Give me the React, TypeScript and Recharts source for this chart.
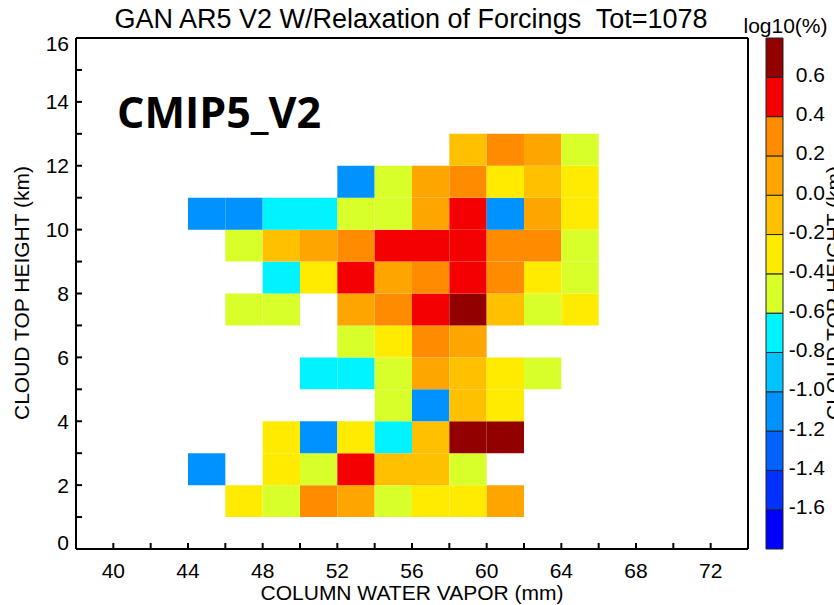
import React from 'react';
import { ComposedChart, XAxis, YAxis, ReferenceArea } from 'recharts';

const FONT = '"Liberation Sans", Arial, Helvetica, sans-serif';

// Column water vapor bins (left edge, mm) and cloud-top-height bins (bottom edge, km)
const cellLeftEdges = [44, 46, 48, 50, 52, 54, 56, 58, 60, 62, 64];
const rowBottomEdges = [1, 2, 3, 4, 5, 6, 7, 8, 9, 10, 11, 12];
const binWidth = 2;
const binHeight = 1;

// log10(%) values per row (null = empty bin)
const row01 = [null, -0.33, -0.52, 0.27, 0.12, -0.47, -0.28, -0.31, 0.09, null, null];
const row02 = [-1.03, null, -0.29, -0.45, 0.48, -0.12, -0.09, -0.55, null, null, null];
const row03 = [null, null, -0.33, -1.03, -0.26, -0.73, -0.15, 0.66, 0.63, null, null];
const row04 = [null, null, null, null, null, -0.52, -1.03, -0.11, -0.3, null, null];
const row05 = [null, null, null, -0.73, -0.73, -0.49, 0.06, -0.16, -0.28, -0.56, null];
const row06 = [null, null, null, null, -0.47, -0.31, 0.24, 0.14, null, null, null];
const row07 = [null, -0.56, -0.52, null, 0.11, 0.33, 0.45, 0.71, -0.13, -0.44, -0.32];
const row08 = [null, null, -0.73, -0.27, 0.42, 0.09, 0.27, 0.52, 0.29, -0.34, -0.49];
const row09 = [null, -0.45, -0.06, 0.15, 0.31, 0.47, 0.53, 0.58, 0.26, 0.35, -0.51];
const row10 = [-1.03, -1.03, -0.73, -0.73, -0.42, -0.55, 0.08, 0.49, -1.03, 0.13, -0.36];
const row11 = [null, null, null, null, -1.03, -0.51, 0.11, 0.28, -0.37, -0.12, -0.3];
const row12 = [null, null, null, null, null, null, null, -0.09, 0.23, 0.07, -0.47];
const rows = [row01, row02, row03, row04, row05, row06, row07, row08, row09, row10, row11, row12];

// Axes
const xTicks = [38, 40, 42, 44, 46, 48, 50, 52, 54, 56, 58, 60, 62, 64, 66, 68, 70, 72, 74];
const xTickLabels = [40, 44, 48, 52, 56, 60, 64, 68, 72];
const yTicks = [0, 1, 2, 3, 4, 5, 6, 7, 8, 9, 10, 11, 12, 13, 14, 15, 16];
const yTickLabels = [0, 2, 4, 6, 8, 10, 12, 14, 16];

// Colour scale
const colorLevels = [-1.8, -1.6, -1.4, -1.2, -1.0, -0.8, -0.6, -0.4, -0.2, 0.0, 0.2, 0.4, 0.6, 0.8];
const levelColors = [
  '#0000ff', '#0031ff', '#0062ff', '#0092ff', '#00c3ff', '#00f3ff', '#d8ff29',
  '#ffeb00', '#ffc000', '#ffa500', '#ff8c00', '#f50000', '#930000',
];
const colorbarTicks = [-1.6, -1.4, -1.2, -1.0, -0.8, -0.6, -0.4, -0.2, 0.0, 0.2, 0.4, 0.6];

const TITLE = 'GAN AR5 V2 W/Relaxation of Forcings  Tot=1078';

function colorFor(v: number): string {
  for (let i = 0; i < levelColors.length; i++) {
    if (v >= colorLevels[i] && v < colorLevels[i + 1]) return levelColors[i];
  }
  return v < colorLevels[0] ? levelColors[0] : levelColors[levelColors.length - 1];
}

type Cell = { x: number; y: number; v: number };
const cells: Cell[] = [];
rows.forEach((row, ri) => {
  row.forEach((v, ci) => {
    if (v !== null && v !== undefined) cells.push({ x: cellLeftEdges[ci], y: rowBottomEdges[ri], v });
  });
});

const XTick = (p: any) => {
  const v = p.payload?.value;
  if (!xTickLabels.includes(v)) return <g />;
  return (
    <text x={p.x} y={p.y} dy="0.71em" textAnchor="middle" fontSize={21} fontFamily={FONT} fill="#000">
      {v}
    </text>
  );
};

const YTick = (p: any) => {
  const v = p.payload?.value;
  if (!yTickLabels.includes(v)) return <g />;
  const shift = v === 16 ? 6 : v === 0 ? -6 : 0;
  return (
    <text x={p.x} y={p.y + shift} dy="0.355em" textAnchor="end" fontSize={21} fontFamily={FONT} fill="#000">
      {v}
    </text>
  );
};

const CbTick = (p: any) => {
  const v = p.payload?.value;
  return (
    <text x={p.x} y={p.y + 4.5} textAnchor="end" fontSize={21} fontFamily={FONT} fill="#000">
      {Number(v).toFixed(1)}
    </text>
  );
};

const W = 834;
const H = 605;

export default function App() {
  return (
    <div style={{ position: 'absolute', left: 0, top: 0, width: W, height: H, background: '#fff' }}>
      <svg
        width={W}
        height={H}
        style={{ position: 'absolute', left: 0, top: 0, pointerEvents: 'none' }}
      >
        <text x={841} y={293} textAnchor="middle" fontSize={21} fontFamily={FONT} fill="#000" transform="rotate(-90 841 293)">
          CLOUD TOP HEIGHT (km)
        </text>
      </svg>

      <div style={{ position: 'absolute', left: 0, top: 0 }}>
        <ComposedChart width={W} height={H} margin={{ top: 37, right: 85, bottom: 0, left: 0 }}>
          <XAxis
            type="number"
            dataKey="x"
            domain={[38, 74]}
            ticks={xTicks}
            interval={0}
            height={56}
            tickSize={-6}
            tickMargin={20}
            tick={XTick}
            axisLine={{ stroke: '#000', strokeWidth: 2 }}
            tickLine={{ stroke: '#000', strokeWidth: 2 }}
            allowDataOverflow
          />
          <XAxis
            xAxisId="top"
            orientation="top"
            type="number"
            domain={[38, 74]}
            ticks={xTicks}
            interval={0}
            height={1}
            tickSize={-6}
            tick={false}
            axisLine={{ stroke: '#000', strokeWidth: 2 }}
            tickLine={{ stroke: '#000', strokeWidth: 2 }}
            allowDataOverflow
          />
          <YAxis
            type="number"
            dataKey="y"
            domain={[0, 16]}
            ticks={yTicks}
            interval={0}
            width={76}
            tickSize={-6}
            tickMargin={13}
            tick={YTick}
            axisLine={{ stroke: '#000', strokeWidth: 2 }}
            tickLine={{ stroke: '#000', strokeWidth: 2 }}
            allowDataOverflow
          />
          <YAxis
            yAxisId="right"
            orientation="right"
            type="number"
            domain={[0, 16]}
            ticks={yTicks}
            interval={0}
            width={1}
            tickSize={-6}
            tick={false}
            axisLine={{ stroke: '#000', strokeWidth: 2 }}
            tickLine={{ stroke: '#000', strokeWidth: 2 }}
            allowDataOverflow
          />
          {cells.map((c, i) => (
            <ReferenceArea
              key={i}
              x1={c.x}
              x2={c.x + binWidth}
              y1={c.y}
              y2={c.y + binHeight}
              fill={colorFor(c.v)}
              fillOpacity={1}
              stroke="none"
              ifOverflow="visible"
            />
          ))}
        </ComposedChart>
      </div>

      <div style={{ position: 'absolute', left: 0, top: 0 }}>
        <ComposedChart width={W} height={H} margin={{ top: 38, right: 0, bottom: 56, left: 766 }}>
          <XAxis hide type="number" dataKey="x" domain={[0, 1]} allowDataOverflow />
          <YAxis
            orientation="right"
            type="number"
            dataKey="y"
            domain={[-1.8, 0.8]}
            ticks={colorbarTicks}
            interval={0}
            width={51}
            tickSize={0}
            tickMargin={42}
            axisLine={false}
            tickLine={false}
            tick={CbTick}
            allowDataOverflow
          />
          {levelColors.map((col, i) => (
            <ReferenceArea
              key={i}
              x1={0}
              x2={1}
              y1={colorLevels[i]}
              y2={colorLevels[i + 1]}
              fill={col}
              fillOpacity={1}
              stroke="#222"
              strokeWidth={1}
              ifOverflow="visible"
            />
          ))}
        </ComposedChart>
      </div>

      <svg
        width={W}
        height={H}
        style={{ position: 'absolute', left: 0, top: 0, pointerEvents: 'none' }}
      >
        <text x={411} y={27.5} textAnchor="middle" fontSize={27} fontFamily={FONT} fill="#000" style={{ whiteSpace: 'pre' }}>
          {TITLE}
        </text>
        <text x={117} y={128} fontSize={43} fontWeight={700} fontFamily='"Open Sans", "Noto Sans", sans-serif' fill="#000">
          CMIP5_V2
        </text>
        <text x={785.5} y={33} textAnchor="middle" fontSize={21} fontFamily={FONT} fill="#000">
          log10(%)
        </text>
        <text x={412} y={600} textAnchor="middle" fontSize={21} fontFamily={FONT} fill="#000">
          COLUMN WATER VAPOR (mm)
        </text>
        <text x={29} y={293} textAnchor="middle" fontSize={21} fontFamily={FONT} fill="#000" transform="rotate(-90 29 293)">
          CLOUD TOP HEIGHT (km)
        </text>
      </svg>
    </div>
  );
}
